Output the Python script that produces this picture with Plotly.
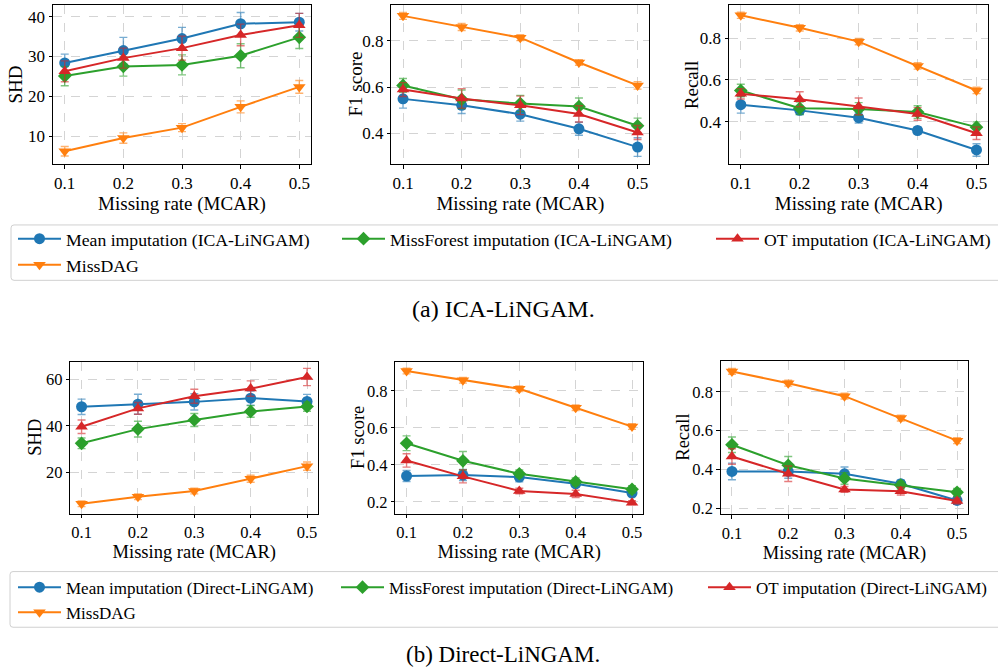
import plotly.graph_objects as go

# ---------------- data ----------------
rates = [0.1, 0.2, 0.3, 0.4, 0.5]
rate_labels = ["0.1", "0.2", "0.3", "0.4", "0.5"]

# (a) ICA-LiNGAM
ica_shd_mean = [28.4, 31.5, 34.5, 38.2, 38.6]
ica_shd_mean_err = [2.2, 3.3, 2.8, 2.8, 2.2]
ica_shd_missdag = [6.3, 9.6, 12.2, 17.4, 22.4]
ica_shd_missdag_err = [1.2, 1.3, 1.0, 1.5, 1.6]
ica_shd_missforest = [25.1, 27.5, 27.9, 30.2, 34.8]
ica_shd_missforest_err = [2.4, 2.4, 2.5, 3.0, 2.8]
ica_shd_ot = [26.3, 29.6, 32.1, 35.4, 37.8]
ica_shd_ot_err = [2.6, 2.5, 3.0, 2.7, 3.0]

ica_f1_mean = [0.549, 0.521, 0.483, 0.420, 0.341]
ica_f1_mean_err = [0.040, 0.035, 0.030, 0.028, 0.040]
ica_f1_missdag = [0.907, 0.859, 0.813, 0.706, 0.607]
ica_f1_missdag_err = [0.015, 0.015, 0.013, 0.012, 0.016]
ica_f1_missforest = [0.607, 0.547, 0.529, 0.516, 0.433]
ica_f1_missforest_err = [0.030, 0.040, 0.035, 0.037, 0.033]
ica_f1_ot = [0.589, 0.551, 0.521, 0.484, 0.404]
ica_f1_ot_err = [0.030, 0.042, 0.040, 0.035, 0.030]

ica_rec_mean = [0.482, 0.455, 0.420, 0.359, 0.266]
ica_rec_mean_err = [0.040, 0.020, 0.025, 0.016, 0.030]
ica_rec_missdag = [0.909, 0.849, 0.783, 0.667, 0.550]
ica_rec_missdag_err = [0.015, 0.015, 0.015, 0.015, 0.015]
ica_rec_missforest = [0.550, 0.465, 0.462, 0.447, 0.375]
ica_rec_missforest_err = [0.030, 0.030, 0.030, 0.030, 0.025]
ica_rec_ot = [0.534, 0.508, 0.474, 0.438, 0.346]
ica_rec_ot_err = [0.025, 0.036, 0.040, 0.030, 0.030]

# (b) Direct-LiNGAM
dir_shd_mean = [48.2, 49.3, 50.3, 51.9, 50.5]
dir_shd_mean_err = [3.3, 4.3, 3.5, 3.0, 3.0]
dir_shd_missdag = [6.5, 9.5, 12.0, 17.3, 22.7]
dir_shd_missdag_err = [1.2, 1.2, 1.2, 1.5, 1.8]
dir_shd_missforest = [32.5, 38.6, 42.5, 46.2, 48.3]
dir_shd_missforest_err = [2.3, 3.4, 2.8, 2.5, 2.0]
dir_shd_ot = [39.6, 47.5, 52.7, 56.0, 61.0]
dir_shd_ot_err = [2.9, 2.5, 3.0, 3.3, 3.7]

dir_f1_mean = [0.340, 0.345, 0.334, 0.298, 0.248]
dir_f1_mean_err = [0.030, 0.030, 0.025, 0.015, 0.015]
dir_f1_missdag = [0.907, 0.857, 0.811, 0.709, 0.607]
dir_f1_missdag_err = [0.015, 0.015, 0.015, 0.015, 0.015]
dir_f1_missforest = [0.517, 0.422, 0.352, 0.309, 0.268]
dir_f1_missforest_err = [0.040, 0.050, 0.020, 0.020, 0.020]
dir_f1_ot = [0.424, 0.338, 0.259, 0.243, 0.196]
dir_f1_ot_err = [0.036, 0.035, 0.015, 0.020, 0.010]

dir_rec_mean = [0.389, 0.389, 0.377, 0.325, 0.239]
dir_rec_mean_err = [0.043, 0.035, 0.035, 0.020, 0.020]
dir_rec_missdag = [0.906, 0.845, 0.778, 0.665, 0.548]
dir_rec_missdag_err = [0.015, 0.015, 0.015, 0.015, 0.015]
dir_rec_missforest = [0.527, 0.421, 0.353, 0.318, 0.281]
dir_rec_missforest_err = [0.040, 0.045, 0.030, 0.020, 0.020]
dir_rec_ot = [0.466, 0.377, 0.296, 0.287, 0.236]
dir_rec_ot_err = [0.040, 0.040, 0.015, 0.020, 0.015]

# ---------------- styling ----------------
FONT = "Liberation Serif"
W, H = 998, 672
C_BLUE, C_ORANGE, C_GREEN, C_RED = "#1f77b4", "#ff7f0e", "#2ca02c", "#d62728"
ERR_COL = {C_BLUE: "rgba(31,119,180,0.6)", C_ORANGE: "rgba(255,127,14,0.6)",
           C_GREEN: "rgba(44,160,44,0.6)", C_RED: "rgba(214,39,40,0.6)"}

def px_x(a, b):
    return [a / W, b / W]

def px_y(top, bottom):
    return [1 - bottom / H, 1 - top / H]

# axis boxes in pixels: (left, right, top, bottom)
boxes = [
    (53, 311, 5, 165), (391.3, 649.3, 5, 165), (729, 988.3, 5, 165),
    (70.3, 318.3, 364, 516.7), (395.3, 643.3, 364, 517), (720.7, 968.3, 363.3, 517.3),
]
yranges = [[3.1, 42.9], [0.268, 0.954], [0.199, 0.958],
           [2.3, 67.5], [0.135, 0.957], [0.168, 0.959]]
ytickvals = [[10, 20, 30, 40], [0.4, 0.6, 0.8], [0.4, 0.6, 0.8],
             [20, 40, 60], [0.2, 0.4, 0.6, 0.8], [0.2, 0.4, 0.6, 0.8]]
ytitles = ["SHD", "F1 score", "Recall", "SHD", "F1 score", "Recall"]
ytitle_x = [15, 355, 691.7, 35, 358, 683]
tick_sizes = [17, 17, 17, 16.5, 16.5, 16.5]
title_sizes = [19, 19, 19, 18.5, 18.5, 18.5]

panels = [
    [("Mean imputation (ICA-LiNGAM)", ica_shd_mean, ica_shd_mean_err, C_BLUE, "circle", "legend"),
     ("MissDAG", ica_shd_missdag, ica_shd_missdag_err, C_ORANGE, "triangle-down", "legend"),
     ("MissForest imputation (ICA-LiNGAM)", ica_shd_missforest, ica_shd_missforest_err, C_GREEN, "diamond", "legend2"),
     ("OT imputation (ICA-LiNGAM)", ica_shd_ot, ica_shd_ot_err, C_RED, "triangle-up", "legend3")],
    [("Mean imputation (ICA-LiNGAM)", ica_f1_mean, ica_f1_mean_err, C_BLUE, "circle", None),
     ("MissDAG", ica_f1_missdag, ica_f1_missdag_err, C_ORANGE, "triangle-down", None),
     ("MissForest imputation (ICA-LiNGAM)", ica_f1_missforest, ica_f1_missforest_err, C_GREEN, "diamond", None),
     ("OT imputation (ICA-LiNGAM)", ica_f1_ot, ica_f1_ot_err, C_RED, "triangle-up", None)],
    [("Mean imputation (ICA-LiNGAM)", ica_rec_mean, ica_rec_mean_err, C_BLUE, "circle", None),
     ("MissDAG", ica_rec_missdag, ica_rec_missdag_err, C_ORANGE, "triangle-down", None),
     ("MissForest imputation (ICA-LiNGAM)", ica_rec_missforest, ica_rec_missforest_err, C_GREEN, "diamond", None),
     ("OT imputation (ICA-LiNGAM)", ica_rec_ot, ica_rec_ot_err, C_RED, "triangle-up", None)],
    [("Mean imputation (Direct-LiNGAM)", dir_shd_mean, dir_shd_mean_err, C_BLUE, "circle", "legend4"),
     ("MissDAG", dir_shd_missdag, dir_shd_missdag_err, C_ORANGE, "triangle-down", "legend4"),
     ("MissForest imputation (Direct-LiNGAM)", dir_shd_missforest, dir_shd_missforest_err, C_GREEN, "diamond", "legend5"),
     ("OT imputation (Direct-LiNGAM)", dir_shd_ot, dir_shd_ot_err, C_RED, "triangle-up", "legend6")],
    [("Mean imputation (Direct-LiNGAM)", dir_f1_mean, dir_f1_mean_err, C_BLUE, "circle", None),
     ("MissDAG", dir_f1_missdag, dir_f1_missdag_err, C_ORANGE, "triangle-down", None),
     ("MissForest imputation (Direct-LiNGAM)", dir_f1_missforest, dir_f1_missforest_err, C_GREEN, "diamond", None),
     ("OT imputation (Direct-LiNGAM)", dir_f1_ot, dir_f1_ot_err, C_RED, "triangle-up", None)],
    [("Mean imputation (Direct-LiNGAM)", dir_rec_mean, dir_rec_mean_err, C_BLUE, "circle", None),
     ("MissDAG", dir_rec_missdag, dir_rec_missdag_err, C_ORANGE, "triangle-down", None),
     ("MissForest imputation (Direct-LiNGAM)", dir_rec_missforest, dir_rec_missforest_err, C_GREEN, "diamond", None),
     ("OT imputation (Direct-LiNGAM)", dir_rec_ot, dir_rec_ot_err, C_RED, "triangle-up", None)],
]

fig = go.Figure()
layout_axes = {}
annotations = []
for i, series in enumerate(panels):
    n = "" if i == 0 else str(i + 1)
    for name, vals, errs, col, sym, leg in series:
        kw = dict(legend=leg, showlegend=True) if leg else dict(showlegend=False)
        fig.add_trace(go.Scatter(
            x=rates, y=vals, name=name, mode="lines+markers",
            line=dict(color=col, width=2),
            marker=dict(symbol=sym, size=11 if sym != "diamond" else 10.5, color=col),
            error_y=dict(type="data", array=errs, visible=True, color=ERR_COL[col],
                         thickness=1.4, width=4),
            xaxis="x" + n, yaxis="y" + n, **kw))
    l, r, t, b = boxes[i]
    common = dict(showline=True, mirror=True, linecolor="black", linewidth=1,
                  ticks="outside", ticklen=3.5, tickcolor="black", tickwidth=1,
                  showgrid=True, gridcolor="#d4d4d4", griddash="dash", gridwidth=0.8,
                  zeroline=False, tickfont=dict(family=FONT, size=tick_sizes[i], color="black"))
    layout_axes["xaxis" + n] = dict(domain=px_x(l, r), anchor="y" + n, range=[0.08, 0.52],
                                    tickvals=rates, ticktext=rate_labels,
                                    title=dict(text="Missing rate (MCAR)", standoff=1,
                                               font=dict(family=FONT, size=title_sizes[i], color="black")),
                                    **common)
    layout_axes["yaxis" + n] = dict(domain=px_y(t, b), anchor="x" + n, range=yranges[i],
                                    tickvals=ytickvals[i], **common)
    annotations.append(dict(text=ytitles[i], x=ytitle_x[i] / W, y=1 - (t + b) / 2 / H,
                            xref="paper", yref="paper", showarrow=False, textangle=-90,
                            xanchor="center", yanchor="middle",
                            font=dict(family=FONT, size=title_sizes[i], color="black")))

def legend_cfg(x_px, y_px, size):
    return dict(x=x_px / W, y=1 - y_px / H, xanchor="left", yanchor="top",
                orientation="v", bgcolor="rgba(0,0,0,0)", borderwidth=0,
                itemwidth=43, tracegroupgap=0, traceorder="normal",
                font=dict(family=FONT, size=size, color="black"))

def rounded_box(x0, y0, x1, y1, rad=3):
    X = lambda v: v / W
    Y = lambda v: 1 - v / H
    return (f"M {X(x0 + rad)},{Y(y0)} L {X(x1 - rad)},{Y(y0)} "
            f"Q {X(x1)},{Y(y0)} {X(x1)},{Y(y0 + rad)} L {X(x1)},{Y(y1 - rad)} "
            f"Q {X(x1)},{Y(y1)} {X(x1 - rad)},{Y(y1)} L {X(x0 + rad)},{Y(y1)} "
            f"Q {X(x0)},{Y(y1)} {X(x0)},{Y(y1 - rad)} L {X(x0)},{Y(y0 + rad)} "
            f"Q {X(x0)},{Y(y0)} {X(x0 + rad)},{Y(y0)} Z")

annotations += [
    dict(text="(a) ICA-LiNGAM.", x=503.8 / W, y=1 - 310.7 / H, xref="paper", yref="paper",
         showarrow=False, xanchor="center", yanchor="middle",
         font=dict(family=FONT, size=24, color="black")),
    dict(text="(b) Direct-LiNGAM.", x=503 / W, y=1 - 658 / H, xref="paper", yref="paper",
         showarrow=False, xanchor="center", yanchor="middle",
         font=dict(family=FONT, size=23, color="black")),
]

fig.update_layout(
    width=W, height=H, margin=dict(l=0, r=0, t=0, b=0),
    paper_bgcolor="white", plot_bgcolor="white",
    font=dict(family=FONT, color="black"),
    legend=legend_cfg(13, 222, 17.7),
    legend2=legend_cfg(337, 222, 17.7),
    legend3=legend_cfg(711, 222, 17.7),
    legend4=legend_cfg(13, 573, 17),
    legend5=legend_cfg(336, 573, 17),
    legend6=legend_cfg(703, 573, 17),
    shapes=[
        dict(type="path", xref="paper", yref="paper", path=rounded_box(11, 226.3, 1003, 282),
             line=dict(color="#d0d0d0", width=1)),
        dict(type="path", xref="paper", yref="paper", path=rounded_box(10, 575, 1003, 631),
             line=dict(color="#d0d0d0", width=1)),
    ],
    annotations=annotations,
    **layout_axes,
)

fig.write_html("out.html", config={"displayModeBar": False},
               post_script="document.body.style.margin='0';")
